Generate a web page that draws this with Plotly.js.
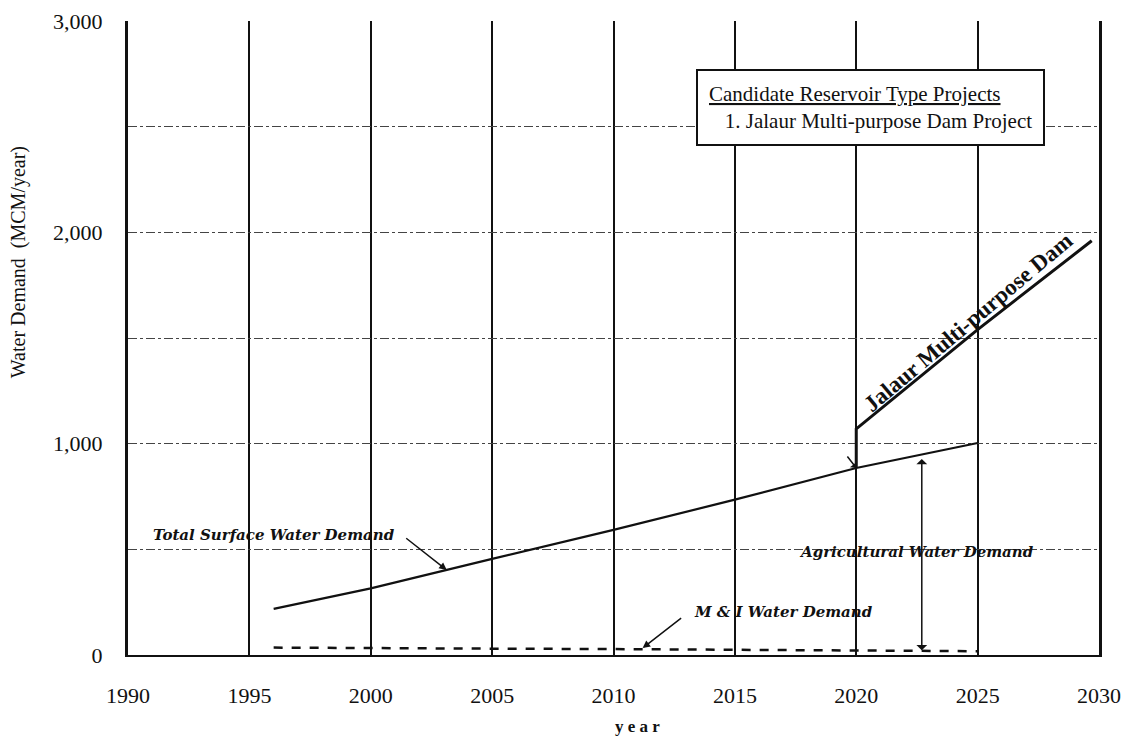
<!DOCTYPE html>
<html>
<head>
<meta charset="utf-8">
<script src="https://cdn.plot.ly/plotly-3.0.1.min.js"></script>
<style>
html,body{margin:0;padding:0;background:#fff;}
#chart{width:1139px;height:748px;}
</style>
</head>
<body>
<div id="chart"></div>
<script>
// ---- data ----
var totalYears = [1996, 2000, 2005, 2010, 2015, 2020, 2025];
var totalDemand = [218, 315, 455, 592, 735, 885, 1003];

var miYears = [1996, 2000, 2005, 2010, 2015, 2020, 2025];
var miDemand = [35, 32, 30, 28, 25, 22, 18];

var damYears = [2020, 2020, 2025, 2029.7];
var damDemand = [885, 1070, 1540, 1960];

var yTickVals = [0, 500, 1000, 1500, 2000, 2500, 3000];
var yTickText = ['0', '', '1,000', '', '2,000', '', '3,000'];
var xTickVals = [1990, 1995, 2000, 2005, 2010, 2015, 2020, 2025, 2030];

var agriArrowYear = 2022.7, agriTop = 935, agriBottom = 22;

var serif = 'Liberation Serif, Times New Roman, serif';
var annoFont = {family: 'DejaVu Serif, serif', size: 15, color: '#111', weight: 'bold', style: 'italic'};

var traces = [
  {x: totalYears, y: totalDemand, mode: 'lines', name: 'Total Surface Water Demand',
   line: {color: '#111', width: 2.2}},
  {x: miYears, y: miDemand, mode: 'lines', name: 'M & I Water Demand',
   line: {color: '#111', width: 2.5, dash: 'dash'}},
  {x: damYears, y: damDemand, mode: 'lines', name: 'Jalaur Multi-purpose Dam',
   line: {color: '#111', width: 3}}
];

var layout = {
  width: 1139, height: 748,
  margin: {l: 128, r: 40, t: 21, b: 93},
  paper_bgcolor: '#fff', plot_bgcolor: '#fff',
  showlegend: false,
  font: {family: serif, color: '#111'},
  xaxis: {
    range: [1990, 2030], tickvals: xTickVals,
    showgrid: true, gridcolor: '#111', gridwidth: 2,
    zeroline: false, showline: true, linecolor: '#111', linewidth: 2, mirror: false,
    ticks: '', ticklabelstandoff: 20,
    tickfont: {family: serif, size: 22, color: '#111'}
  },
  yaxis: {
    range: [0, 3000], tickvals: yTickVals, ticktext: yTickText,
    showgrid: true, gridcolor: '#444', gridwidth: 1, griddash: 'dashdot',
    zeroline: false, showline: true, linecolor: '#111', linewidth: 3, mirror: true,
    ticks: '', ticklabelstandoff: 18,
    tickfont: {family: serif, size: 22, color: '#111'}
  },
  annotations: [
    {xref: 'paper', yref: 'paper', x: -0.112, y: 0.62, textangle: -90, showarrow: false,
     text: 'Water Demand  (MCM/year)', font: {family: serif, size: 20, color: '#111'},
     xanchor: 'center', yanchor: 'middle'},
    {xref: 'paper', yref: 'paper', x: 0.525, y: -0.113, showarrow: false,
     text: 'y e a r', font: {family: serif, size: 17, color: '#111', weight: 'bold'},
     xanchor: 'center', yanchor: 'middle'},
    {xref: 'x', yref: 'y', x: 2020.6, y: 2593, showarrow: false, align: 'left',
     text: '<u>Candidate Reservoir Type Projects</u><br>   1. Jalaur Multi-purpose Dam Project',
     font: {family: serif, size: 21, color: '#111'},
     bordercolor: '#111', borderwidth: 2, borderpad: 11, bgcolor: '#fff',
     xanchor: 'center', yanchor: 'middle'},
    {xref: 'x', yref: 'y', x: 2024.6, y: 1575, showarrow: false, textangle: -40,
     text: 'Jalaur Multi-purpose Dam',
     font: {family: serif, size: 23, color: '#111', weight: 'bold'},
     xanchor: 'center', yanchor: 'middle'},
    {xref: 'x', yref: 'y', x: 1996.0, y: 568, showarrow: false,
     text: 'Total Surface Water Demand', font: annoFont, xanchor: 'center', yanchor: 'middle'},
    {xref: 'x', yref: 'y', x: 2003.13, y: 402, showarrow: true, text: '',
     ax: -42, ay: -33, arrowhead: 2, arrowsize: 1, arrowwidth: 1.5, arrowcolor: '#111'},
    {xref: 'x', yref: 'y', x: 2017.0, y: 204, showarrow: false,
     text: 'M & I Water Demand', font: annoFont, xanchor: 'center', yanchor: 'middle'},
    {xref: 'x', yref: 'y', x: 2011.2, y: 33, showarrow: true, text: '',
     ax: 40, ay: -31, arrowhead: 2, arrowsize: 1, arrowwidth: 1.5, arrowcolor: '#111'},
    {xref: 'x', yref: 'y', x: 2022.5, y: 487, showarrow: false,
     text: 'Agricultural Water Demand', font: annoFont, xanchor: 'center', yanchor: 'middle'},
    {xref: 'x', yref: 'y', x: agriArrowYear, y: agriBottom, showarrow: true, text: '',
     axref: 'x', ayref: 'y', ax: agriArrowYear, ay: agriTop,
     arrowhead: 1, startarrowhead: 1, arrowside: 'end+start', arrowsize: 1.2, arrowwidth: 1.5, arrowcolor: '#111'},
    {xref: 'x', yref: 'y', x: 2020, y: 885, showarrow: true, text: '',
     ax: -10, ay: -13, arrowhead: 1, arrowsize: 1, arrowwidth: 1.5, arrowcolor: '#111'}
  ]
};

Plotly.newPlot('chart', traces, layout, {displayModeBar: false, staticPlot: true});
</script>
</body>
</html>
